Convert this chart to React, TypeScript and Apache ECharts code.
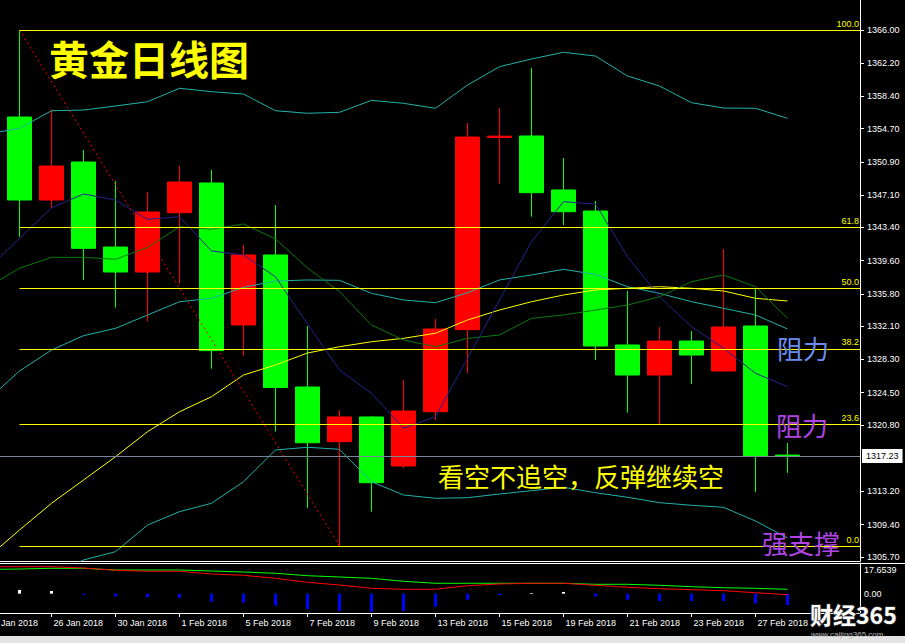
import React, { useEffect, useRef } from 'react';
import * as echarts from 'echarts';

// Trading days shown on the daily gold chart (first one sits just left of the view)
const dates = [
  '24 Jan 2018', '25 Jan 2018', '26 Jan 2018', '29 Jan 2018', '30 Jan 2018', '31 Jan 2018',
  '1 Feb 2018', '2 Feb 2018', '5 Feb 2018', '6 Feb 2018', '7 Feb 2018', '8 Feb 2018',
  '9 Feb 2018', '12 Feb 2018', '13 Feb 2018', '14 Feb 2018', '15 Feb 2018', '16 Feb 2018',
  '19 Feb 2018', '20 Feb 2018', '21 Feb 2018', '22 Feb 2018', '23 Feb 2018', '26 Feb 2018',
  '27 Feb 2018', '28 Feb 2018',
];

// Daily OHLC
const opens = [null, 1356.04, 1346.54, 1350.89, 1341.16, 1338.3, 1345.09, 1348.49, 1332.24, 1340.25, 1325.14, 1318.88, 1321.71, 1316.1, 1322.31, 1331.7, 1353.7, 1353.87, 1347.69, 1345.28, 1329.95, 1326.51, 1330.4, 1326.97, 1332.12, 1317.35];
const closes = [null, 1346.54, 1350.43, 1341.01, 1338.3, 1345.17, 1348.6, 1329.3, 1340.25, 1325.08, 1318.76, 1321.71, 1314.19, 1322.39, 1331.78, 1353.75, 1353.85, 1347.38, 1345.2, 1329.83, 1326.51, 1330.4, 1328.8, 1332.01, 1317.3, 1317.23];
const lows = [null, 1342.34, 1345.63, 1337.39, 1334.22, 1332.62, 1337.0, 1327.23, 1328.72, 1320.02, 1311.26, 1306.94, 1310.87, 1315.83, 1321.36, 1326.71, 1348.41, 1344.63, 1343.68, 1328.23, 1322.2, 1320.79, 1325.48, 1326.86, 1313.12, 1315.3];
const highs = [null, 1366.0, 1356.92, 1352.27, 1348.72, 1347.46, 1350.43, 1349.98, 1341.4, 1345.97, 1332.12, 1322.51, 1321.82, 1325.94, 1332.92, 1355.36, 1357.07, 1361.65, 1351.35, 1346.43, 1336.13, 1332.01, 1331.55, 1340.93, 1336.36, 1318.73];

// Bollinger bands
const bollUpper = [1354.1, 1354.75, 1356.76, 1356.84, 1357.3, 1357.79, 1359.33, 1358.94, 1358.67, 1356.76, 1356.47, 1356.58, 1357.95, 1357.61, 1357.04, 1359.7, 1361.8, 1362.68, 1363.45, 1363.02, 1360.74, 1359.59, 1357.68, 1357.07, 1357.04, 1355.89];
const bollMiddle = [1323.65, 1326.97, 1329.37, 1331.01, 1331.86, 1333.38, 1334.9, 1335.29, 1336.55, 1337.27, 1337.39, 1337.35, 1335.86, 1335.1, 1334.79, 1335.93, 1337.39, 1337.96, 1338.61, 1338.02, 1336.62, 1335.86, 1334.9, 1334.15, 1333.38, 1331.78];
const bollLower = [1300.99, 1302.13, 1303.62, 1305.34, 1306.29, 1309.34, 1310.87, 1311.83, 1314.3, 1317.93, 1318.24, 1318.01, 1314.3, 1312.78, 1312.4, 1312.47, 1312.89, 1313.27, 1313.66, 1313.04, 1312.52, 1311.9, 1311.6, 1311.37, 1309.8, 1307.86];

// Moving averages
const maFast = [1338.64, 1342.16, 1345.63, 1347.23, 1346.54, 1344.33, 1344.63, 1340.71, 1340.25, 1337.76, 1332.34, 1327.08, 1324.42, 1320.41, 1321.74, 1328.42, 1335.1, 1341.77, 1346.35, 1346.08, 1340.05, 1335.47, 1332.04, 1329.57, 1326.71, 1325.17];
const maMid = [1336.58, 1338.73, 1339.98, 1339.98, 1339.76, 1341.11, 1343.49, 1343.19, 1343.8, 1342.08, 1338.76, 1336.05, 1332.24, 1330.52, 1329.75, 1330.71, 1331.09, 1333.0, 1333.38, 1333.95, 1334.52, 1335.47, 1337.19, 1337.96, 1336.62, 1333.0];
const maSlow = [1305.61, 1308.77, 1311.83, 1314.49, 1317.16, 1320.02, 1322.31, 1324.03, 1326.51, 1327.66, 1329.03, 1329.75, 1330.32, 1330.71, 1331.29, 1332.81, 1333.95, 1334.9, 1335.67, 1336.24, 1336.44, 1336.62, 1336.44, 1336.13, 1335.29, 1334.98];

// Sub-window oscillator
const oscGreen = [18.03, 18.4, 18.92, 18.92, 17.65, 17.65, 17.65, 16.91, 16.16, 15.2, 13.41, 12.44, 11.47, 9.24, 7.75, 7.75, 7.75, 7.75, 7.75, 7.0, 7.0, 6.26, 5.21, 4.47, 4.02, 3.28];
const oscRed = [20.11, 20.11, 20.11, 19.14, 17.43, 16.69, 16.69, 14.67, 13.71, 11.47, 8.49, 6.48, 4.02, 3.28, 3.28, 5.96, 7.23, 7.75, 7.75, 6.26, 4.77, 3.72, 2.98, 2.23, 0.74, -0.74];
const oscHist = [null, 2.8, 2.0, -0.75, -2.2, -2.7, -3.0, -6.0, -6.7, -8.9, -11.4, -12.9, -13.4, -12.9, -9.7, -4.5, -1.0, 0.5, 1.3, -2.2, -4.5, -5.4, -5.4, -5.4, -7.2, -8.4];

// Price scale tick labels
const priceTickLabels = ['1305.70', '1309.40', '1313.20', '1320.80', '1324.50', '1328.30', '1332.10', '1335.80', '1339.60', '1343.40', '1347.10', '1350.90', '1354.70', '1358.40', '1362.20', '1366.00'];
const oscTickLabels = ['17.6539', '0.00'];
// Date labels every second bar
const dateTickIndices = [2, 4, 6, 8, 10, 12, 14, 16, 18, 20, 22, 24];

// Fibonacci retracement from the 25 Jan high to the 8 Feb low
const fibRatios = [0, 23.6, 38.2, 50, 61.8, 100];
const fibHighIdx = 1;
const fibHigh = 1366.0;
const fibLowIdx = 11;
const fibLow = 1306.94;
const lastPrice = 1317.23;

// View window (bar index range, price range)
const X_MIN = 0.390625;
const X_MAX = 27.265625;
const PRICE_MIN = 1305.224;
const PRICE_MAX = 1369.434;
const OSC_MIN = -14.38;
const OSC_MAX = 22.87;

const pairs = (arr: (number | null)[]) =>
  arr.map((v, i) => (v == null ? null : [i, v])).filter((p) => p !== null) as number[][];

const AXIS_FONT = "'Liberation Sans', Arial, sans-serif";
const CJK_FONT = "'Noto Sans CJK SC', 'Noto Sans', sans-serif";

function buildGraphic(cutLabelX: number | null) {
  const items: any[] = [
    {
      type: 'line',
      shape: { x1: 0, y1: 563.5, x2: 905, y2: 563.5 },
      style: { stroke: '#ffffff', lineWidth: 1 },
      silent: true,
    },
    {
      type: 'rect',
      shape: { x: 0, y: 636, width: 905, height: 7 },
      style: { fill: '#e3e3e3' },
      silent: true,
    },
    {
      type: 'text', x: 49, y: 58, z: 20,
      style: { text: '黄金日线图', fill: '#ffff00', fontSize: 40, fontWeight: 'bold', fontFamily: CJK_FONT, textVerticalAlign: 'middle' },
    },
    {
      type: 'text', x: 438, y: 475, z: 20,
      style: { text: '看空不追空，反弹继续空', fill: '#ffff00', fontSize: 26, fontFamily: CJK_FONT, textVerticalAlign: 'middle' },
    },
    {
      type: 'text', x: 777, y: 347, z: 20,
      style: { text: '阻力', fill: '#6a8cf0', fontSize: 26, fontFamily: CJK_FONT, textVerticalAlign: 'middle' },
    },
    {
      type: 'text', x: 776, y: 424, z: 20,
      style: { text: '阻力', fill: '#b044e6', fontSize: 26, fontFamily: CJK_FONT, textVerticalAlign: 'middle' },
    },
    {
      type: 'text', x: 762, y: 542, z: 20,
      style: { text: '强支撑', fill: '#b044e6', fontSize: 26, fontFamily: CJK_FONT, textVerticalAlign: 'middle' },
    },
    {
      type: 'text', x: 810, y: 614, z: 30,
      style: { text: '财经365', fill: '#ffffff', stroke: '#333333', lineWidth: 1.5, fontSize: 23, fontWeight: 'bold', fontFamily: CJK_FONT, textVerticalAlign: 'middle' },
    },
    {
      type: 'text', x: 811, y: 634, z: 30,
      style: { text: 'www.caijing365.com', fill: '#bbbbbb', fontSize: 8, fontFamily: AXIS_FONT, textVerticalAlign: 'middle' },
    },
  ];
  if (cutLabelX != null) {
    items.push({
      type: 'text', x: cutLabelX + 1, y: 618,
      style: { text: dates[0], fill: '#ffffff', fontSize: 9, fontFamily: AXIS_FONT, textVerticalAlign: 'top' },
      silent: true,
    });
  }
  return items;
}

export default function App() {
  const ref = useRef<HTMLDivElement>(null);

  useEffect(() => {
    document.body.style.margin = '0';
    document.body.style.background = '#000';
    const chart = echarts.init(ref.current!, undefined, { renderer: 'svg' });

    const candles = dates
      .map((_, i) => (opens[i] == null ? null : [i, opens[i], closes[i], lows[i], highs[i]]))
      .filter((c) => c !== null);

    const fibLines = fibRatios.map((r) => {
      const level = fibLow + (r / 100) * (fibHigh - fibLow);
      return [
        { coord: [fibHighIdx, level], name: r.toFixed(1) },
        { coord: [X_MAX, level] },
      ];
    });

    const priceTicks = priceTickLabels.map(Number);
    const oscTicks = oscTickLabels.map(Number);

    const thinLine = (name: string, data: (number | null)[], color: string, z = 3) => ({
      name,
      type: 'line',
      xAxisIndex: 0,
      yAxisIndex: 0,
      data: pairs(data),
      showSymbol: false,
      symbol: 'none',
      lineStyle: { color, width: 1 },
      z,
      silent: true,
    });

    const option: any = {
      animation: false,
      backgroundColor: '#000000',
      grid: [
        { left: 0, right: 45, top: 0, height: 561, show: false },
        { left: 0, right: 45, top: 563, height: 50, show: false },
      ],
      xAxis: [
        {
          gridIndex: 0, type: 'value', min: X_MIN, max: X_MAX,
          axisLine: { show: true, onZero: false, lineStyle: { color: '#ffffff', width: 1 } },
          axisTick: { show: false }, axisLabel: { show: false }, splitLine: { show: false },
        },
        {
          gridIndex: 1, type: 'value', min: X_MIN, max: X_MAX,
          axisLine: { show: true, onZero: false, lineStyle: { color: '#ffffff', width: 1 } },
          axisTick: { show: true, length: 4, customValues: dateTickIndices, lineStyle: { color: '#ffffff' } },
          axisLabel: {
            customValues: dateTickIndices,
            formatter: (v: number) => dates[Math.round(v)] ?? '',
            color: '#ffffff', fontSize: 9, fontFamily: AXIS_FONT, align: 'left', margin: 5, padding: [0, 0, 0, 2],
          },
          splitLine: { show: false },
        },
      ],
      yAxis: [
        {
          gridIndex: 0, type: 'value', position: 'right', min: PRICE_MIN, max: PRICE_MAX,
          axisLine: { show: true, onZero: false, lineStyle: { color: '#ffffff', width: 1 } },
          axisTick: { show: true, length: 4, customValues: priceTicks, lineStyle: { color: '#ffffff' } },
          axisLabel: {
            customValues: priceTicks,
            formatter: (v: number) => v.toFixed(2),
            color: '#ffffff', fontSize: 9, fontFamily: AXIS_FONT, margin: 7,
          },
          splitLine: { show: false },
        },
        {
          gridIndex: 1, type: 'value', position: 'right', min: OSC_MIN, max: OSC_MAX,
          axisLine: { show: true, onZero: false, lineStyle: { color: '#ffffff', width: 1 } },
          axisTick: { show: false },
          axisLabel: {
            customValues: oscTicks,
            formatter: (v: number) => oscTickLabels[oscTicks.indexOf(v)] ?? '',
            color: '#ffffff', fontSize: 9, fontFamily: AXIS_FONT, margin: 4,
          },
          splitLine: { show: false },
        },
      ],
      series: [
        {
          // last-price line sits beneath the candles
          name: 'Last',
          type: 'line',
          xAxisIndex: 0,
          yAxisIndex: 0,
          data: [],
          z: 1,
          silent: true,
          markLine: {
            silent: true,
            symbol: ['none', 'none'],
            animation: false,
            lineStyle: { color: '#778899', width: 1, type: 'solid' },
            label: {
              show: true, position: 'end', formatter: '{b}', color: '#000000',
              backgroundColor: '#ffffff', padding: [3, 4, 2, 4], fontSize: 9,
              fontFamily: AXIS_FONT, distance: 2,
            },
            data: [{ yAxis: lastPrice, name: lastPrice.toFixed(2) }],
          },
        },
        {
          name: 'XAUUSD',
          type: 'candlestick',
          xAxisIndex: 0,
          yAxisIndex: 0,
          data: candles,
          encode: { x: 0, y: [1, 2, 3, 4] },
          barWidth: 24,
          itemStyle: {
            color: '#ff0000', color0: '#00ff00',
            borderColor: '#ff0000', borderColor0: '#00ff00', borderWidth: 1,
          },
          z: 2,
          silent: true,
        },
        thinLine('BB Upper', bollUpper, '#20b2aa'),
        thinLine('BB Middle', bollMiddle, '#20b2aa'),
        thinLine('BB Lower', bollLower, '#20b2aa'),
        thinLine('MA Slow', maSlow, '#ffff00'),
        thinLine('MA Mid', maMid, '#0a7a0a'),
        thinLine('MA Fast', maFast, '#23238f'),
        {
          name: 'Fibo',
          type: 'line',
          xAxisIndex: 0,
          yAxisIndex: 0,
          data: [[fibHighIdx, fibHigh], [fibLowIdx, fibLow]],
          showSymbol: false,
          symbol: 'none',
          lineStyle: { color: '#ff0000', width: 1, type: [2, 3] },
          z: 4,
          silent: true,
          markLine: {
            silent: true,
            symbol: ['none', 'none'],
            animation: false,
            lineStyle: { color: '#ffff00', width: 1, type: 'solid' },
            label: {
              show: true, position: 'insideEndTop', formatter: '{b}', color: '#ffff00',
              fontSize: 9, fontFamily: AXIS_FONT, distance: [1, 2],
            },
            data: fibLines,
          },
        },
        {
          name: 'Osc Hist',
          type: 'bar',
          xAxisIndex: 1,
          yAxisIndex: 1,
          data: pairs(oscHist),
          barWidth: 3,
          itemStyle: { color: (p: any) => (p.value[1] >= 0 ? '#ffffff' : '#0000ff') },
          z: 2,
          silent: true,
        },
        {
          name: 'Osc Green', type: 'line', xAxisIndex: 1, yAxisIndex: 1, data: pairs(oscGreen),
          showSymbol: false, symbol: 'none', lineStyle: { color: '#00ff00', width: 1 }, z: 3, silent: true,
        },
        {
          name: 'Osc Red', type: 'line', xAxisIndex: 1, yAxisIndex: 1, data: pairs(oscRed),
          showSymbol: false, symbol: 'none', lineStyle: { color: '#ff0000', width: 1 }, z: 3, silent: true,
        },
      ],
      graphic: buildGraphic(null),
    };

    chart.setOption(option);
    const cutX = chart.convertToPixel({ xAxisIndex: 1 }, 0) as unknown as number;
    chart.setOption({ graphic: buildGraphic(typeof cutX === 'number' ? cutX : null) }, { replaceMerge: ['graphic'] });

    return () => chart.dispose();
  }, []);

  return (
    <div
      ref={ref}
      style={{ position: 'absolute', left: 0, top: 0, width: 905, height: 643, background: '#000' }}
    />
  );
}
